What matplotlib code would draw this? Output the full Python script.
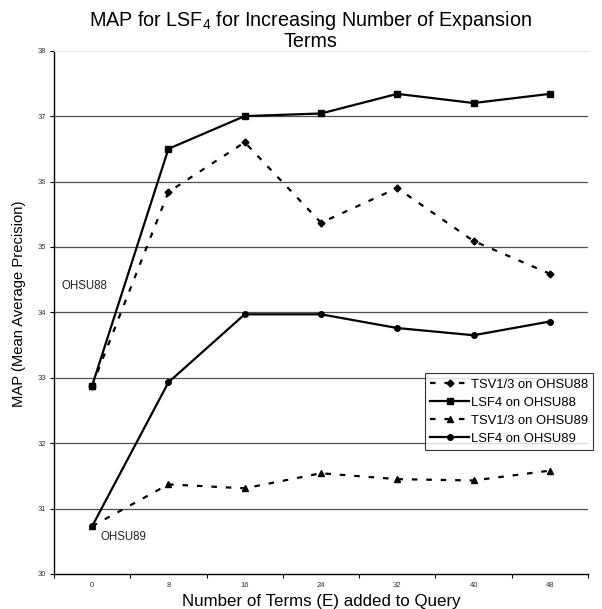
import matplotlib
matplotlib.use("Agg")
import matplotlib.pyplot as plt
import numpy as np

plt.rcParams['font.family'] = ['Liberation Sans', 'DejaVu Sans']
plt.rcParams['mathtext.fontset'] = 'custom'
plt.rcParams['mathtext.rm'] = 'Liberation Sans'
plt.rcParams['mathtext.it'] = 'Liberation Sans'

categories = ['0', '8', '16', '24', '32', '40', '48']
tsv_ohsu88 = [32.88, 35.84, 36.60, 35.37, 35.90, 35.09, 34.59]
lsf_ohsu88 = [32.88, 36.50, 37.00, 37.04, 37.34, 37.20, 37.34]
tsv_ohsu89 = [30.73, 31.37, 31.31, 31.54, 31.45, 31.43, 31.58]
lsf_ohsu89 = [30.73, 32.93, 33.97, 33.97, 33.76, 33.65, 33.86]
series_labels = ['TSV1/3 on OHSU88', 'LSF4 on OHSU88', 'TSV1/3 on OHSU89', 'LSF4 on OHSU89']
yticks = [30, 31, 32, 33, 34, 35, 36, 37, 38]

fig = plt.figure(figsize=(6.02, 6.09), dpi=100)
ax = fig.add_axes([54/602, 1-574/609, (588-54)/602, (574-50.7)/609])

x = np.arange(len(categories))
dash = (0, (2.5, 4))
lw = 1.6
ax.plot(x, tsv_ohsu88, color='black', lw=lw, linestyle=dash, marker='D', markersize=3.5,
        label=series_labels[0], zorder=3)
ax.plot(x, lsf_ohsu88, color='black', lw=lw, linestyle='-', marker='s', markersize=4.5,
        label=series_labels[1], zorder=3)
ax.plot(x, tsv_ohsu89, color='black', lw=lw, linestyle=dash, marker='^', markersize=4.5,
        label=series_labels[2], zorder=3)
ax.plot(x, lsf_ohsu89, color='black', lw=lw, linestyle='-', marker='o', markersize=4,
        label=series_labels[3], zorder=3)

ax.set_xlim(-0.5, len(categories) - 0.5)
ax.set_ylim(30, 38)

# gridlines
for yv in yticks[1:-1]:
    ax.axhline(yv, color='#505050', lw=0.9, zorder=1)

ax.set_yticks(yticks)
ax.set_yticklabels([str(v) for v in yticks], fontsize=5.5, color='#333333')
ax.tick_params(axis='y', direction='out', length=3, width=0.8, pad=3)

ax.set_xticks(np.arange(len(categories) + 1) - 0.5)
ax.set_xticklabels([])
ax.tick_params(axis='x', which='major', direction='out', length=3, width=0.8)
ax.set_xticks(x, minor=True)
ax.set_xticklabels(categories, minor=True, fontsize=5.5, color='#333333')
ax.tick_params(axis='x', which='minor', length=0, pad=6)

for s in ['left', 'bottom']:
    ax.spines[s].set_linewidth(1.0)
    ax.spines[s].set_color('black')
ax.spines['top'].set_color('#e8e8e8')
ax.spines['top'].set_linewidth(0.8)
ax.spines['right'].set_visible(False)

ax.set_xlabel('Number of Terms (E) added to Query', fontsize=12.2, labelpad=3.5)
ax.set_ylabel('MAP (Mean Average Precision)', fontsize=10.6)
ax.yaxis.set_label_coords(-0.0515, 0.517)

ax.text(-0.406, 34.40, 'OHSU88', fontsize=8.3, ha='left', va='center', color='#222222')
ax.text(0.105, 30.56, 'OHSU89', fontsize=8.3, ha='left', va='center', color='#222222')

fig.text(310/602, 1 - 9/609, 'MAP for LSF$_4$ for Increasing Number of Expansion\nTerms',
         ha='center', va='top', fontsize=14.2, linespacing=1.0)

leg = ax.legend(loc='lower left', bbox_to_anchor=(425/602, 1 - 450/609), bbox_transform=fig.transFigure,
                borderaxespad=0, fontsize=9.4, frameon=True, fancybox=False, handlelength=3.0,
                handletextpad=0.1, labelspacing=0.45, borderpad=0.4)
leg.get_frame().set_edgecolor('black')
leg.get_frame().set_linewidth(0.8)

fig.savefig('out.png', dpi=100)
